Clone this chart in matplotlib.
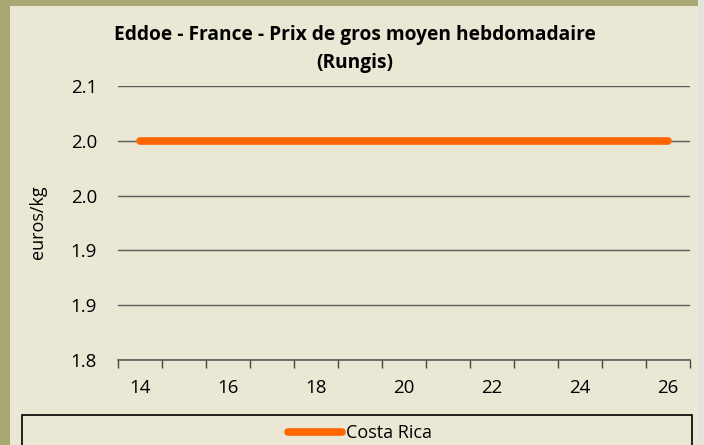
import matplotlib
matplotlib.use("Agg")
import matplotlib.pyplot as plt
from matplotlib.patches import Rectangle

plt.rcParams['font.family'] = ['Open Sans', 'DejaVu Sans']

# data
weeks = [14, 15, 16, 17, 18, 19, 20, 21, 22, 23, 24, 25, 26]
costa_rica = [2.04, 2.04, 2.04, 2.04, 2.04, 2.04, 2.04, 2.04, 2.04, 2.04, 2.04, 2.04, 2.04]
yticks = [1.80, 1.86, 1.92, 1.98, 2.04, 2.10]

W, H = 704, 445
olive = '#a9a772'
panel = '#eae7d5'

fig = plt.figure(figsize=(W / 100, H / 100), dpi=100)
fig.patch.set_facecolor(olive)

def fx(px):
    return px / W

def fy(py):
    return 1 - py / H

# panel + right-hand shadow strip
fig.add_artist(Rectangle((fx(698), 0), fx(6), 1, transform=fig.transFigure,
                         facecolor='#e4e4dc', edgecolor='none', zorder=0))
fig.add_artist(Rectangle((fx(10), 0), fx(688), fy(6), transform=fig.transFigure,
                         facecolor=panel, edgecolor='none', zorder=0))

ax = fig.add_axes([fx(118), fy(360), fx(572), 274 / H])
ax.set_facecolor('none')
x = list(range(len(weeks)))
ax.plot(x, costa_rica, color='#ff6600', lw=5.5, solid_capstyle='round',
        label='Costa Rica', zorder=3)

ax.set_xlim(-0.5, len(weeks) - 0.5)
ax.set_ylim(1.8, 2.1)
ax.set_yticks(yticks)
ax.set_yticklabels(['%.1f' % v for v in yticks])
ax.yaxis.grid(True, color='#5a5a5a', lw=1.0)
ax.set_axisbelow(True)

ax.set_xticks(x[::2])
ax.set_xticklabels([str(w) for w in weeks[::2]])
ax.set_xticks([i - 0.5 for i in range(len(weeks) + 1)], minor=True)
ax.tick_params(axis='x', which='major', length=0, pad=14, labelsize=13.5)
ax.tick_params(axis='x', which='minor', length=6, width=1, color='#444444')
ax.tick_params(axis='y', length=0, pad=15, labelsize=13.5)

for s in ['left', 'right', 'top']:
    ax.spines[s].set_visible(False)
ax.spines['bottom'].set_color('#5a5a5a')
ax.spines['bottom'].set_linewidth(1.2)

fig.text(fx(38), fy(222), 'euros/kg', rotation=90, ha='center', va='center',
         fontsize=13)
fig.text(fx(355), fy(49), 'Eddoe - France - Prix de gros moyen hebdomadaire\n(Rungis)',
         ha='center', va='center', fontsize=13.8, fontweight='bold', linespacing=1.5)

# legend box
fig.add_artist(Rectangle((fx(22), fy(448)), fx(670), 33 / H, transform=fig.transFigure,
                         facecolor='none', edgecolor='black', lw=1.2, zorder=1))
fig.legend(loc='center', bbox_to_anchor=(fx(360), fy(433)), frameon=False,
           handlelength=3.0, handletextpad=0.2, fontsize=13)

fig.savefig('out.png', dpi=100, facecolor=fig.get_facecolor())
